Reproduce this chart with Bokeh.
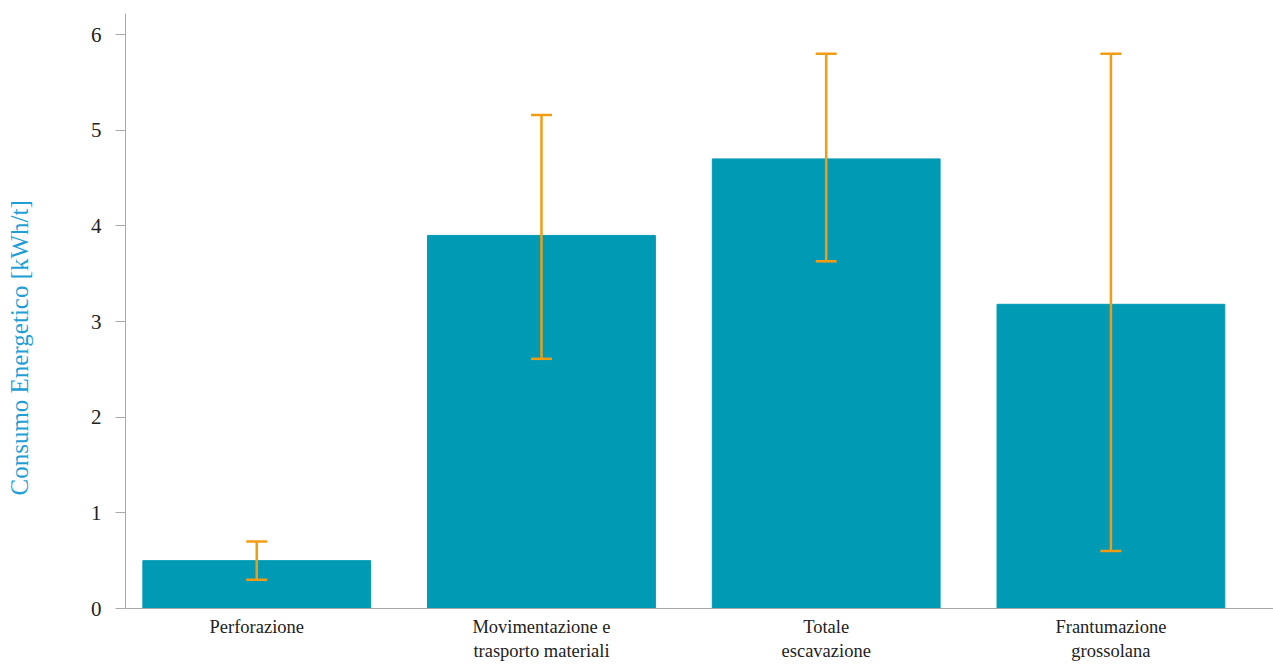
from bokeh.plotting import figure
from bokeh.models import ColumnDataSource, Whisker, TeeHead, Range1d, FixedTicker, Title
from bokeh.embed import file_html
from bokeh.resources import INLINE

categories = ["Perforazione", "Movimentazione e\ntrasporto materiali", "Totale\nescavazione", "Frantumazione\ngrossolana"]
consumo = [0.5, 3.9, 4.7, 3.18]
err_lower = [0.3, 2.61, 3.63, 0.6]
err_upper = [0.7, 5.16, 5.8, 5.8]
y_ticks = [0, 1, 2, 3, 4, 5, 6]
y_title = "Consumo Energetico  [kWh/t]"

BAR = "#009ab5"
ERR = "#f39c12"
FONT = "Liberation Serif"

pos = list(range(len(categories)))
src = ColumnDataSource(dict(x=pos, top=consumo, lower=err_lower, upper=err_upper))

p = figure(width=1273, height=664, output_backend="svg", toolbar_location=None,
           x_range=Range1d(-0.461, 3.571), y_range=Range1d(0, 6.22),
           min_border_left=125, min_border_right=0, min_border_top=13, min_border_bottom=56)

p.vbar(x="x", top="top", width=0.8, source=src, color=BAR)

w = Whisker(base="x", upper="upper", lower="lower", source=src,
            line_color=ERR, line_width=2.5,
            upper_head=TeeHead(size=21, line_color=ERR, line_width=2.5),
            lower_head=TeeHead(size=21, line_color=ERR, line_width=2.5))
w.level = "annotation"
p.add_layout(w)

p.xgrid.visible = False
p.ygrid.visible = False
p.outline_line_color = None

xa = p.xaxis[0]
xa.ticker = FixedTicker(ticks=pos)
xa.major_label_overrides = {i: c for i, c in enumerate(categories)}
xa.major_tick_line_color = None
xa.minor_tick_line_color = None
xa.axis_line_color = "#aaaaaa"
xa.major_label_text_font = FONT
xa.major_label_text_font_size = "18.5px"
xa.major_label_text_color = "#222222"
xa.major_label_standoff = 2

ya = p.yaxis[0]
ya.ticker = FixedTicker(ticks=y_ticks)
ya.minor_tick_line_color = None
ya.major_tick_out = 10
ya.major_tick_in = 0
ya.major_tick_line_color = "#aaaaaa"
ya.axis_line_color = "#aaaaaa"
ya.major_label_text_font = FONT
ya.major_label_text_font_size = "21px"
ya.major_label_text_color = "#222222"
ya.major_label_standoff = 14
ya.axis_label = " "
ya.axis_label_text_font_size = "10px"
ya.axis_label_standoff = 41

t = Title(text=y_title, align="left", offset=113, standoff=0,
          text_font=FONT, text_font_size="25px", text_font_style="normal",
          text_color="#1f9fd5")
p.add_layout(t, "left")

open("out.html", "w").write(file_html(p, INLINE))
